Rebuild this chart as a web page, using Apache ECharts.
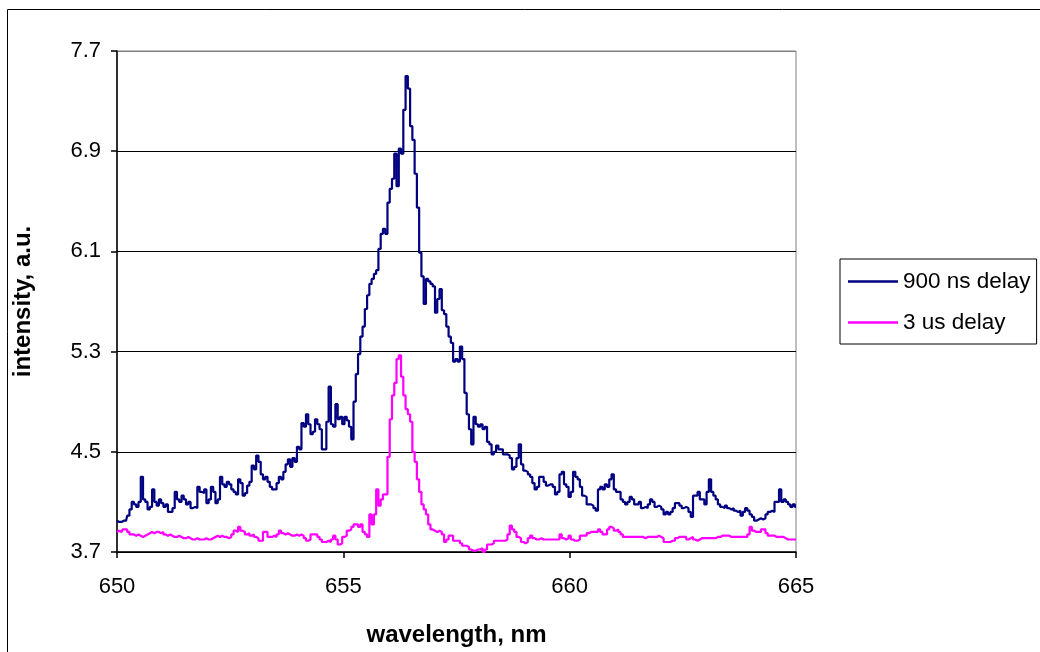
<!DOCTYPE html>
<html>
<head>
<meta charset="utf-8">
<script src="https://cdn.jsdelivr.net/npm/echarts@6/dist/echarts.min.js"></script>
<style>
html,body{margin:0;padding:0;background:#fff;}
#chart{width:1040px;height:652px;}
</style>
</head>
<body>
<div id="chart"></div>
<script>
// wavelength sampling grid (nm): 650.00 .. 665.00 in 0.05 nm steps
const wlStart = 650.0;
const wlStep = 0.05;
// series values (a.u.), one row = 0.5 nm
const delay900ns = [
3.95,3.94,3.94,3.95,3.95,3.99,4.04,4.10,4.08,4.06,
4.10,4.30,4.12,4.10,4.04,4.06,4.20,4.10,4.07,4.12,
4.09,4.06,4.08,4.02,4.02,4.05,4.18,4.12,4.10,4.15,
4.12,4.08,4.10,4.05,4.06,4.05,4.22,4.18,4.17,4.20,
4.09,4.12,4.22,4.18,4.09,4.12,4.30,4.24,4.22,4.26,
4.24,4.20,4.18,4.16,4.28,4.25,4.15,4.17,4.23,4.26,
4.39,4.36,4.47,4.42,4.32,4.28,4.30,4.26,4.22,4.20,
4.20,4.25,4.30,4.28,4.34,4.40,4.44,4.38,4.45,4.42,
4.54,4.52,4.73,4.70,4.80,4.72,4.64,4.66,4.76,4.72,
4.68,4.52,4.52,4.74,5.02,4.72,4.70,4.88,4.76,4.78,
4.72,4.78,4.75,4.70,4.60,4.90,5.12,5.28,5.42,5.50,
5.64,5.75,5.84,5.88,5.92,5.95,6.12,6.24,6.28,6.24,
6.49,6.60,6.68,6.88,6.62,6.92,6.88,7.23,7.50,7.40,
7.10,6.99,6.72,6.45,6.09,5.90,5.68,5.88,5.86,5.84,
5.82,5.61,5.72,5.80,5.63,5.60,5.50,5.42,5.37,5.22,
5.24,5.22,5.34,5.24,4.97,4.80,4.68,4.56,4.78,4.72,
4.70,4.72,4.68,4.70,4.58,4.56,4.48,4.50,4.55,4.52,
4.52,4.48,4.48,4.47,4.45,4.36,4.38,4.45,4.56,4.40,
4.35,4.34,4.32,4.30,4.25,4.20,4.22,4.30,4.30,4.26,
4.23,4.24,4.24,4.22,4.16,4.18,4.32,4.34,4.24,4.22,
4.14,4.18,4.34,4.30,4.28,4.22,4.15,4.14,4.08,4.08,
4.07,4.05,4.03,4.20,4.22,4.20,4.24,4.22,4.28,4.32,
4.20,4.18,4.18,4.12,4.10,4.08,4.10,4.14,4.12,4.08,
4.08,4.10,4.05,4.06,4.05,4.08,4.12,4.10,4.06,4.07,
4.06,4.04,4.00,4.02,4.00,4.02,4.05,4.09,4.09,4.07,
4.05,4.06,4.05,4.02,3.98,4.15,4.15,4.18,4.12,4.12,
4.08,4.18,4.28,4.18,4.15,4.12,4.08,4.06,4.05,4.07,
4.05,4.04,4.05,4.03,4.02,4.03,3.99,4.02,4.05,4.03,
4.00,3.98,3.95,3.96,3.97,3.96,3.97,4.00,4.02,4.03,
4.02,4.10,4.10,4.20,4.10,4.12,4.10,4.08,4.06,4.08,
4.06
];
const delay3us = [
3.86,3.87,3.86,3.88,3.88,3.86,3.84,3.84,3.83,3.84,
3.83,3.82,3.83,3.84,3.85,3.86,3.85,3.86,3.86,3.85,
3.86,3.84,3.83,3.84,3.83,3.82,3.82,3.83,3.82,3.81,
3.81,3.82,3.81,3.80,3.80,3.81,3.80,3.80,3.80,3.81,
3.80,3.80,3.81,3.82,3.83,3.82,3.83,3.82,3.82,3.81,
3.82,3.84,3.87,3.86,3.90,3.87,3.86,3.84,3.85,3.83,
3.84,3.82,3.81,3.79,3.79,3.86,3.86,3.82,3.82,3.83,
3.82,3.84,3.87,3.85,3.84,3.85,3.84,3.83,3.83,3.84,
3.83,3.84,3.83,3.81,3.79,3.80,3.84,3.84,3.84,3.82,
3.80,3.78,3.78,3.79,3.78,3.80,3.83,3.80,3.76,3.77,
3.82,3.83,3.87,3.88,3.90,3.92,3.92,3.90,3.92,3.86,
3.84,3.82,4.00,3.92,4.00,4.20,4.07,4.12,4.16,4.16,
4.46,4.76,4.95,5.05,5.24,5.27,5.10,4.95,4.84,4.80,
4.74,4.50,4.42,4.28,4.18,4.08,4.04,4.00,3.92,3.88,
3.87,3.86,3.87,3.86,3.84,3.78,3.80,3.83,3.83,3.79,
3.79,3.79,3.77,3.75,3.75,3.74,3.72,3.71,3.71,3.72,
3.72,3.73,3.70,3.72,3.76,3.76,3.77,3.79,3.79,3.79,
3.79,3.79,3.80,3.84,3.91,3.88,3.86,3.82,3.81,3.78,
3.77,3.78,3.81,3.83,3.81,3.80,3.80,3.81,3.80,3.80,
3.80,3.80,3.80,3.80,3.80,3.80,3.84,3.81,3.80,3.81,
3.83,3.80,3.79,3.79,3.80,3.83,3.83,3.83,3.85,3.86,
3.86,3.86,3.86,3.88,3.86,3.84,3.84,3.88,3.90,3.89,
3.87,3.88,3.86,3.84,3.82,3.82,3.82,3.82,3.82,3.82,
3.82,3.82,3.82,3.81,3.82,3.82,3.82,3.82,3.82,3.83,
3.82,3.81,3.78,3.78,3.78,3.79,3.79,3.81,3.82,3.82,
3.82,3.82,3.80,3.81,3.82,3.80,3.79,3.80,3.81,3.81,
3.81,3.81,3.81,3.81,3.81,3.82,3.82,3.83,3.83,3.83,
3.83,3.82,3.82,3.82,3.82,3.82,3.82,3.82,3.82,3.84,
3.90,3.87,3.86,3.86,3.86,3.88,3.88,3.85,3.83,3.83,
3.83,3.82,3.82,3.82,3.82,3.81,3.80,3.80,3.80,3.80,
3.80
];
const seriesNames = ['900 ns delay', '3 us delay'];
const xTitle = 'wavelength, nm';
const yTitle = 'intensity, a.u.';

const wavelengths = delay900ns.map((_, i) => +(wlStart + i * wlStep).toFixed(2));
const pairs = arr => arr.map((v, i) => [wavelengths[i], v]);

const chart = echarts.init(document.getElementById('chart'), null, {renderer: 'canvas'});
const font = 'Liberation Sans, Arial, sans-serif';
chart.setOption({
  animation: false,
  backgroundColor: '#ffffff',
  graphic: [{
    type: 'rect', silent: true, z: -10,
    shape: {x: 7.5, y: 9.5, width: 1100, height: 700},
    style: {fill: '#ffffff', stroke: '#000000', lineWidth: 1}
  }],
  grid: {left: 117, top: 51, width: 679, height: 502, show: true,
         borderColor: '#808080', borderWidth: 1, backgroundColor: '#ffffff'},
  legend: {
    left: 840, top: 259, orient: 'vertical',
    padding: [11, 6, 10, 8], itemGap: 18,
    borderColor: '#000', borderWidth: 1, backgroundColor: '#fff',
    icon: 'rect', itemWidth: 50, itemHeight: 2.5,
    textStyle: {fontFamily: font, fontSize: 22.5, color: '#000'},
    data: seriesNames
  },
  xAxis: {
    type: 'value', min: 650, max: 665, interval: 5,
    name: xTitle, nameLocation: 'middle', nameGap: 71,
    nameTextStyle: {fontFamily: font, fontSize: 24, fontWeight: 'bold', color: '#000'},
    axisLine: {lineStyle: {color: '#000', width: 1.5}},
    axisTick: {show: true, inside: false, length: 6, lineStyle: {color: '#000', width: 1.5}},
    axisLabel: {fontFamily: font, fontSize: 22, color: '#000', margin: 24},
    splitLine: {show: false}
  },
  yAxis: {
    type: 'value', min: 3.7, max: 7.7, interval: 0.8,
    name: yTitle, nameLocation: 'middle', nameGap: 82,
    nameTextStyle: {fontFamily: font, fontSize: 24, fontWeight: 'bold', color: '#000'},
    axisLine: {show: true, lineStyle: {color: '#000', width: 1.5}},
    axisTick: {show: true, inside: false, length: 6, lineStyle: {color: '#000', width: 1.5}},
    axisLabel: {fontFamily: font, fontSize: 22, color: '#000', margin: 16,
                formatter: v => v.toFixed(1)},
    splitLine: {show: true, lineStyle: {color: ['#000','#000','#000','#000','#000','#808080'], width: 1.2}}
  },
  series: [
    {name: seriesNames[0], type: 'line', step: 'middle', data: pairs(delay900ns), showSymbol: false,
     lineStyle: {color: '#000080', width: 2.2}, itemStyle: {color: '#000080'}, z: 3},
    {name: seriesNames[1], type: 'line', step: 'middle', data: pairs(delay3us), showSymbol: false,
     lineStyle: {color: '#ff00ff', width: 2.2}, itemStyle: {color: '#ff00ff'}, z: 2}
  ]
});
</script>
</body>
</html>
